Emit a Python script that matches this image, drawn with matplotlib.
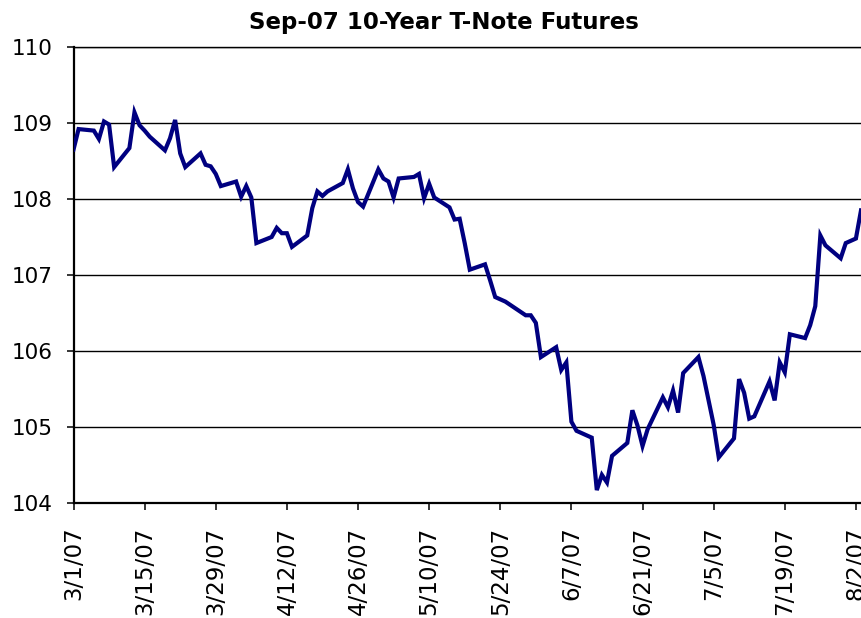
import matplotlib
matplotlib.use("Agg")
import matplotlib.pyplot as plt
import pandas as pd

title = "Sep-07 10-Year T-Note Futures"

dates = [
    "2007-03-01", "2007-03-02", "2007-03-05", "2007-03-06", "2007-03-07", "2007-03-08", "2007-03-09",
    "2007-03-12", "2007-03-13", "2007-03-14", "2007-03-15", "2007-03-16",
    "2007-03-19", "2007-03-20", "2007-03-21", "2007-03-22", "2007-03-23",
    "2007-03-26", "2007-03-27", "2007-03-28", "2007-03-29", "2007-03-30",
    "2007-04-02", "2007-04-03", "2007-04-04", "2007-04-05", "2007-04-06",
    "2007-04-09", "2007-04-10", "2007-04-11", "2007-04-12", "2007-04-13",
    "2007-04-16", "2007-04-17", "2007-04-18", "2007-04-19", "2007-04-20",
    "2007-04-23", "2007-04-24", "2007-04-25", "2007-04-26", "2007-04-27",
    "2007-04-30", "2007-05-01", "2007-05-02", "2007-05-03", "2007-05-04",
    "2007-05-07", "2007-05-08", "2007-05-09", "2007-05-10", "2007-05-11",
    "2007-05-14", "2007-05-15", "2007-05-16", "2007-05-17", "2007-05-18",
    "2007-05-21", "2007-05-22", "2007-05-23", "2007-05-24", "2007-05-25",
    "2007-05-29", "2007-05-30", "2007-05-31", "2007-06-01",
    "2007-06-04", "2007-06-05", "2007-06-06", "2007-06-07", "2007-06-08",
    "2007-06-11", "2007-06-12", "2007-06-13", "2007-06-14", "2007-06-15",
    "2007-06-18", "2007-06-19", "2007-06-20", "2007-06-21", "2007-06-22",
    "2007-06-25", "2007-06-26", "2007-06-27", "2007-06-28", "2007-06-29",
    "2007-07-02", "2007-07-03", "2007-07-05", "2007-07-06",
    "2007-07-09", "2007-07-10", "2007-07-11", "2007-07-12", "2007-07-13",
    "2007-07-16", "2007-07-17", "2007-07-18", "2007-07-19", "2007-07-20",
    "2007-07-23", "2007-07-24", "2007-07-25", "2007-07-26", "2007-07-27",
    "2007-07-30", "2007-07-31", "2007-08-01", "2007-08-02", "2007-08-03",
]

prices = [
    108.65, 108.92, 108.90, 108.79, 109.02, 108.98, 108.42,
    108.67, 109.14, 108.97, 108.90, 108.82,
    108.64, 108.80, 109.04, 108.60, 108.42,
    108.60, 108.45, 108.43, 108.33, 108.17,
    108.23, 108.03, 108.17, 108.02, 107.42,
    107.50, 107.62, 107.55, 107.55, 107.37,
    107.52, 107.88, 108.10, 108.04, 108.10,
    108.21, 108.39, 108.14, 107.96, 107.90,
    108.39, 108.27, 108.23, 108.02, 108.27,
    108.29, 108.33, 108.01, 108.20, 108.02,
    107.89, 107.73, 107.74, 107.42, 107.07,
    107.14, 106.93, 106.71, 106.68, 106.65,
    106.47, 106.47, 106.37, 105.92,
    106.05, 105.75, 105.85, 105.07, 104.95,
    104.86, 104.17, 104.37, 104.27, 104.62,
    104.79, 105.22, 105.02, 104.75, 104.97,
    105.39, 105.26, 105.48, 105.19, 105.71,
    105.92, 105.67, 105.03, 104.60,
    104.85, 105.63, 105.45, 105.11, 105.14,
    105.60, 105.35, 105.85, 105.72, 106.22,
    106.17, 106.34, 106.59, 107.52, 107.39,
    107.22, 107.42, 107.45, 107.48, 107.85,
]

tick_dates = ["2007-03-01", "2007-03-15", "2007-03-29", "2007-04-12", "2007-04-26",
              "2007-05-10", "2007-05-24", "2007-06-07", "2007-06-21", "2007-07-05",
              "2007-07-19", "2007-08-02"]
tick_labels = ["3/1/07", "3/15/07", "3/29/07", "4/12/07", "4/26/07", "5/10/07",
               "5/24/07", "6/7/07", "6/21/07", "7/5/07", "7/19/07", "8/2/07"]
y_ticks = [104, 105, 106, 107, 108, 109, 110]

plt.rcParams['font.family'] = ['DejaVu Sans']

W, H = 861, 618
fig = plt.figure(figsize=(W / 100, H / 100), dpi=100)
ax = fig.add_axes([73.5 / W, (H - 503) / H, (W - 73.5) / W, (503 - 47) / H])

x = pd.to_datetime(dates)
ax.plot(x, prices, color="#000080", lw=3.0, solid_joinstyle="miter", zorder=3)

ax.set_xlim(pd.Timestamp("2007-03-01"), pd.Timestamp("2007-08-03"))
ax.set_ylim(104, 110)
ax.set_yticks(y_ticks)
ax.set_yticklabels([str(v) for v in y_ticks])
ax.set_xticks(pd.to_datetime(tick_dates))
ax.set_xticklabels(tick_labels, rotation=90)

ax.yaxis.grid(True, color="black", lw=1.0, zorder=1)
ax.xaxis.grid(False)
ax.set_axisbelow(True)

ax.spines["right"].set_visible(False)
ax.spines["top"].set_linewidth(1.0)
ax.spines["left"].set_linewidth(1.6)
ax.spines["bottom"].set_linewidth(1.6)

ax.tick_params(axis="y", direction="out", length=5, width=1.1, labelsize=15.5, pad=10)
ax.tick_params(axis="x", direction="out", length=5, width=1.1, labelsize=16.5, pad=12)
for lab in ax.get_xticklabels():
    lab.set_va("top")

fig.text(444 / W, 1 - 22 / H, title, ha="center", va="center",
         fontsize=16.5, fontweight="bold")

fig.savefig("out.png", dpi=100)
